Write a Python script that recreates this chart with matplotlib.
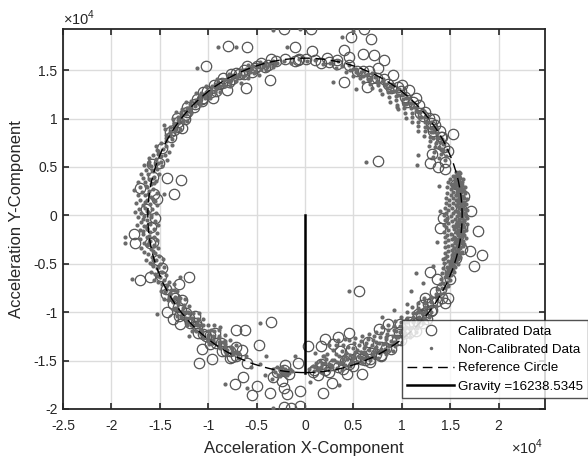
import numpy as np
import matplotlib
matplotlib.use('Agg')
import matplotlib.pyplot as plt
from matplotlib.patches import Circle
from matplotlib.lines import Line2D
from matplotlib.ticker import FuncFormatter, FixedLocator

plt.rcParams['font.family'] = ['Liberation Sans', 'DejaVu Sans']
plt.rcParams['axes.unicode_minus'] = False
plt.rcParams['mathtext.fontset'] = 'custom'
plt.rcParams['mathtext.rm'] = 'Liberation Sans'

SCALE = 1e4          # axis multiplier (x10^4)
gravity = 16238.5345

x_ticks = [-2.5, -2, -1.5, -1, -0.5, 0, 0.5, 1, 1.5, 2]
y_ticks = [-2, -1.5, -1, -0.5, 0, 0.5, 1, 1.5]

# ---------------- Calibrated data: isolated circles (x, y) in 1e4 units
cal_outliers = [
    (-0.80, 1.75), (-0.60, 1.74), (-1.02, 1.54), (-0.22, 1.92), (-0.10, 1.74), (-0.06, 1.61),
    (-0.61, 1.32), (-0.36, 1.40), (-0.81, 1.29), (-0.95, 1.21), (-1.06, 1.20), (-1.27, 0.90),
    (-1.43, 0.39), (-1.28, 0.37), (-1.35, 0.22), (-1.58, 0.53), (-1.70, 0.28), (-1.53, 0.17),
    (-1.55, -0.03),
    (0.06, 1.92), (0.61, 1.92), (0.48, 1.84), (0.68, 1.82), (0.07, 1.70), (0.40, 1.71),
    (0.71, 1.66), (0.82, 1.60), (-0.07, 1.60), (0.17, 1.57), (0.25, 1.58), (0.33, 1.60),
    (0.46, 1.64), (0.60, 1.67), (0.40, 1.38), (0.64, 1.33), (0.75, 1.52), (0.91, 1.45),
    (1.00, 1.35), (1.08, 1.30), (1.15, 1.21), (1.24, 1.07), (1.33, 1.00), (1.34, 0.93),
    (1.41, 0.81), (1.53, 0.84), (1.31, 0.63), (1.29, 0.54), (1.37, 0.50), (1.45, 0.55),
    (1.45, 0.48), (0.75, 0.56),
    (1.79, -0.16), (1.83, -0.41), (1.75, -0.52), (1.70, -0.37), (1.72, 0.05), (1.43, -0.03),
    (1.39, -0.13), (1.29, -0.59), (1.36, -0.66), (1.45, -0.90), (1.48, -0.85), (1.34, -0.79),
    (1.24, -0.85), (1.21, -0.93), (1.31, -0.98), (1.26, -1.07), (1.17, -1.02),
    (0.56, -0.78), (1.07, -1.10), (0.98, -1.12), (0.86, -1.12), (0.76, -1.17), (0.65, -1.31),
    (0.46, -1.22), (0.34, -1.26), (0.21, -1.28), (0.29, -1.33), (0.17, -1.35), (0.03, -1.35),
    (0.36, -1.40), (0.48, -1.38), (0.57, -1.45), (0.67, -1.48), (0.79, -1.45), (0.17, -1.54),
    (0.09, -1.60), (0.28, -1.73), (0.19, -1.83), (-0.05, -1.81), (-0.05, -1.97), (-0.14, -1.99),
    (0.59, -1.64), (0.43, -1.64), (-0.07, -1.52),
    (-0.35, -1.10), (-0.71, -1.18), (-0.62, -1.18), (-0.48, -1.34), (-0.71, -1.36), (-0.65, -1.39),
    (-0.60, -1.52), (-0.64, -1.67), (-0.72, -1.74), (-0.50, -1.76), (-0.55, -1.86), (-0.36, -1.83),
    (-0.22, -1.78), (-0.19, -1.85), (-0.22, -1.98), (-0.21, -1.55), (-0.33, -1.67), (-0.24, -1.71),
    (-1.10, -1.52), (-0.96, -1.48), (-1.14, -1.04), (-0.93, -1.21), (-1.43, -1.00), (-1.29, -1.12),
    (-1.06, -1.38), (-0.77, -1.47),
    (-1.70, -0.67), (-1.20, -0.64), (-1.30, -0.71), (-1.36, -1.07), (-1.27, -0.87), (-1.77, -0.19),
    (-1.76, -0.29), (-1.57, -0.27), (-1.60, -0.64), (-1.48, -0.54),
]

# ---------------- Calibrated data along the ring: (angle deg, radius 1e4)
cal_ring = [
    (100.6, 1.62), (103.8, 1.60), (106.1, 1.64), (108.7, 1.61), (111.2, 1.66), (113.5, 1.59),
    (115.9, 1.63), (118.3, 1.60), (120.8, 1.65), (123.4, 1.62), (125.7, 1.58), (128.2, 1.63),
    (130.9, 1.61), (133.1, 1.64), (135.8, 1.60), (138.6, 1.62), (141.3, 1.59), (143.7, 1.63),
    (146.9, 1.61), (149.8, 1.60),
    (154.6, 1.63), (160.2, 1.60), (165.8, 1.62), (171.9, 1.58), (177.6, 1.64), (184.3, 1.60),
    (190.1, 1.63), (196.7, 1.59), (202.8, 1.61),
    (207.9, 1.62), (211.3, 1.60), (213.8, 1.64), (217.2, 1.61), (219.6, 1.59), (223.1, 1.63),
    (225.8, 1.60), (229.3, 1.62), (231.7, 1.58), (235.2, 1.61), (238.4, 1.64), (240.9, 1.60),
    (244.1, 1.62),
    (259.8, 1.64), (262.1, 1.61), (264.3, 1.65),
    (272.8, 1.62), (276.1, 1.58), (278.7, 1.64), (282.3, 1.60), (285.2, 1.56), (287.9, 1.63),
    (291.4, 1.59), (293.8, 1.66), (297.2, 1.61), (300.1, 1.57), (302.7, 1.64), (306.3, 1.60),
    (308.8, 1.55), (312.1, 1.62), (315.4, 1.58), (317.8, 1.65), (321.2, 1.60), (324.3, 1.56),
    (327.1, 1.62),
    (331.8, 1.60), (336.2, 1.64), (340.1, 1.58), (344.3, 1.62), (347.9, 1.66), (352.2, 1.60),
    (355.8, 1.63), (2.3, 1.61), (6.8, 1.65), (11.7, 1.59),
    (24.2, 1.62), (27.8, 1.58), (31.9, 1.64), (34.6, 1.60), (38.1, 1.63), (41.7, 1.59),
    (46.2, 1.62), (49.8, 1.60), (54.1, 1.64), (57.7, 1.61), (62.3, 1.60), (65.9, 1.63),
    (70.2, 1.58), (73.8, 1.62), (78.1, 1.60), (81.9, 1.64), (86.2, 1.61), (89.8, 1.62),
    (93.7, 1.60), (97.1, 1.63),
]

cal_ring_more = [
    (102.4, 1.65), (105.2, 1.59), (107.9, 1.62), (110.1, 1.58), (112.6, 1.63), (115.1, 1.61),
    (117.4, 1.65), (119.6, 1.58), (122.1, 1.61), (124.8, 1.64), (127.2, 1.60), (129.6, 1.66),
    (132.2, 1.59), (134.6, 1.62), (137.4, 1.65), (140.1, 1.61), (142.6, 1.66), (145.2, 1.60),
    (148.4, 1.64),
    (209.6, 1.65), (212.5, 1.59), (215.8, 1.62), (218.6, 1.66), (221.4, 1.60), (224.7, 1.58),
    (227.6, 1.64), (230.6, 1.61), (233.4, 1.65), (236.8, 1.58), (239.6, 1.62), (242.8, 1.65),
    (274.6, 1.65), (277.4, 1.61), (280.6, 1.57), (283.8, 1.63), (286.6, 1.60), (289.7, 1.56),
    (292.6, 1.62), (295.6, 1.58), (298.8, 1.64), (301.4, 1.60), (304.6, 1.56), (307.7, 1.63),
    (310.4, 1.59), (313.8, 1.66), (316.6, 1.61), (319.6, 1.57), (322.8, 1.63), (325.7, 1.59),
    (328.8, 1.65),
    (26.1, 1.60), (29.8, 1.63), (33.4, 1.58), (36.3, 1.62), (40.1, 1.60), (44.2, 1.64),
    (48.1, 1.58), (52.2, 1.62), (56.1, 1.59), (60.1, 1.63), (64.2, 1.58), (68.1, 1.61),
]

# ---------------- Non-calibrated data, right band: (angle deg, radius 1e4)
noncal_right = [
    (16.2, 1.62), (15.9, 1.65), (15.1, 1.58), (14.8, 1.63), (15.3, 1.66), (14.2, 1.55), (13.9, 1.60),
    (14.1, 1.64), (13.2, 1.52), (12.8, 1.59), (13.1, 1.62), (12.9, 1.67), (12.1, 1.54), (11.8, 1.57),
    (12.2, 1.63), (11.9, 1.66), (11.1, 1.50), (10.8, 1.56), (11.2, 1.61), (10.9, 1.65), (10.1, 1.53),
    (9.8, 1.59), (10.2, 1.64), (9.9, 1.68), (9.1, 1.49), (8.8, 1.55), (9.2, 1.62), (8.9, 1.66),
    (8.1, 1.52), (7.8, 1.58), (8.2, 1.61), (7.9, 1.67), (7.1, 1.47), (6.8, 1.54), (7.2, 1.60),
    (6.9, 1.64), (6.1, 1.50), (5.8, 1.57), (6.2, 1.63), (5.9, 1.68), (5.1, 1.46), (4.8, 1.53),
    (5.2, 1.59), (4.9, 1.65), (4.1, 1.49), (3.8, 1.56), (4.2, 1.62), (3.9, 1.67), (3.1, 1.45),
    (2.8, 1.52), (3.2, 1.60), (2.9, 1.64), (2.1, 1.48), (1.8, 1.55), (2.2, 1.61), (1.9, 1.68),
    (1.1, 1.46), (0.8, 1.53), (1.2, 1.58), (0.9, 1.65), (0.1, 1.44), (-0.2, 1.51), (0.2, 1.60),
    (-0.1, 1.66), (-0.9, 1.47), (-1.2, 1.55), (-0.8, 1.62), (-1.1, 1.67), (-1.9, 1.45), (-2.2, 1.52),
    (-1.8, 1.59), (-2.1, 1.64), (-2.9, 1.48), (-3.2, 1.56), (-2.8, 1.61), (-3.1, 1.68), (-3.9, 1.44),
    (-4.2, 1.53), (-3.8, 1.58), (-4.1, 1.65), (-4.9, 1.46), (-5.2, 1.55), (-4.8, 1.62), (-5.1, 1.67),
    (-5.9, 1.49), (-6.2, 1.57), (-5.8, 1.60), (-6.1, 1.64), (-6.9, 1.45), (-7.2, 1.52), (-6.8, 1.59),
    (-7.1, 1.66), (-7.9, 1.48), (-8.2, 1.56), (-7.8, 1.62), (-8.1, 1.68), (-8.9, 1.46), (-9.2, 1.54),
    (-8.8, 1.60), (-9.1, 1.65), (-9.9, 1.50), (-10.2, 1.57), (-9.8, 1.63), (-10.1, 1.67), (-10.9, 1.47),
    (-11.2, 1.55), (-10.8, 1.61), (-11.1, 1.66), (-11.9, 1.51), (-12.2, 1.58), (-11.8, 1.64),
    (-12.9, 1.48), (-13.2, 1.56), (-12.8, 1.62), (-13.1, 1.67), (-13.9, 1.52), (-14.2, 1.59),
    (-13.8, 1.65), (-14.9, 1.50), (-15.2, 1.57), (-14.8, 1.61), (-15.1, 1.66), (-15.9, 1.53),
    (-16.2, 1.60), (-15.8, 1.64), (-16.9, 1.51), (-17.2, 1.58), (-16.8, 1.63), (-17.9, 1.55),
    (-18.2, 1.61), (-17.8, 1.66), (-18.9, 1.52), (-19.2, 1.59), (-18.8, 1.64), (-19.9, 1.56),
    (-20.2, 1.62), (-20.9, 1.53), (-21.2, 1.60), (-20.8, 1.65), (-21.9, 1.57), (-22.2, 1.63),
    (-22.9, 1.54), (-23.2, 1.61), (-23.9, 1.58), (-24.2, 1.64), (-24.9, 1.55), (-25.2, 1.62),
    (-25.9, 1.59), (-26.2, 1.65), (-26.9, 1.56), (-27.2, 1.63), (-28.1, 1.60), (-28.9, 1.57),
    (-29.2, 1.64), (-30.1, 1.61), (-30.9, 1.58), (-31.2, 1.65),
]

# dense core of the right band
noncal_right_core = [
    (14.6, 1.60), (14.4, 1.64), (13.6, 1.61), (13.4, 1.65), (12.6, 1.59), (12.4, 1.63), (11.6, 1.60),
    (11.4, 1.64), (10.6, 1.58), (10.4, 1.62), (9.6, 1.60), (9.4, 1.65), (8.6, 1.59), (8.4, 1.63),
    (7.6, 1.57), (7.4, 1.62), (6.6, 1.60), (6.4, 1.65), (5.6, 1.58), (5.4, 1.62), (4.6, 1.59),
    (4.4, 1.64), (3.6, 1.57), (3.4, 1.62), (2.6, 1.59), (2.4, 1.64), (1.6, 1.57), (1.4, 1.62),
    (0.6, 1.59), (0.4, 1.64), (-0.4, 1.57), (-0.6, 1.62), (-1.4, 1.59), (-1.6, 1.64), (-2.4, 1.57),
    (-2.6, 1.62), (-3.4, 1.59), (-3.6, 1.64), (-4.4, 1.57), (-4.6, 1.62), (-5.4, 1.59), (-5.6, 1.64),
    (-6.4, 1.57), (-6.6, 1.62), (-7.4, 1.59), (-7.6, 1.64), (-8.4, 1.57), (-8.6, 1.62), (-9.4, 1.59),
    (-9.6, 1.64), (-10.4, 1.58), (-10.6, 1.62), (-11.4, 1.60), (-11.6, 1.64), (-12.4, 1.58),
    (-12.6, 1.62), (-13.4, 1.60), (-13.6, 1.64), (-14.4, 1.58), (-14.6, 1.62), (-15.4, 1.60),
    (-15.6, 1.64), (-16.4, 1.58), (-16.6, 1.62), (-17.4, 1.60), (-18.4, 1.58), (-18.6, 1.63),
    (-19.4, 1.60), (-20.4, 1.58), (-20.6, 1.63), (-21.4, 1.60), (-22.4, 1.58), (-23.4, 1.61),
]

# ---------------- Non-calibrated data, lower-right arc
noncal_lower_right = [
    (-33.1, 1.55), (-32.8, 1.62), (-34.6, 1.50), (-34.3, 1.58), (-34.7, 1.65), (-36.1, 1.53),
    (-35.8, 1.61), (-37.6, 1.48), (-37.3, 1.56), (-37.7, 1.64), (-39.1, 1.51), (-38.8, 1.59),
    (-39.2, 1.66), (-40.6, 1.46), (-40.3, 1.55), (-40.7, 1.62), (-42.1, 1.50), (-41.8, 1.58),
    (-42.2, 1.65), (-43.6, 1.45), (-43.3, 1.53), (-43.7, 1.61), (-45.1, 1.49), (-44.8, 1.57),
    (-45.2, 1.64), (-46.6, 1.44), (-46.3, 1.52), (-46.7, 1.60), (-46.4, 1.67), (-48.1, 1.48),
    (-47.8, 1.56), (-48.2, 1.63), (-49.6, 1.43), (-49.3, 1.51), (-49.7, 1.59), (-49.4, 1.66),
    (-51.1, 1.47), (-50.8, 1.55), (-51.2, 1.62), (-52.6, 1.42), (-52.3, 1.50), (-52.7, 1.58),
    (-52.4, 1.65), (-54.1, 1.46), (-53.8, 1.54), (-54.2, 1.61), (-55.6, 1.40), (-55.3, 1.49),
    (-55.7, 1.57), (-55.4, 1.64), (-57.1, 1.45), (-56.8, 1.53), (-57.2, 1.60), (-56.9, 1.67),
    (-58.6, 1.41), (-58.3, 1.48), (-58.7, 1.56), (-58.4, 1.63), (-60.1, 1.44), (-59.8, 1.52),
    (-60.2, 1.59), (-59.9, 1.66), (-61.6, 1.39), (-61.3, 1.47), (-61.7, 1.55), (-61.4, 1.62),
    (-63.1, 1.43), (-62.8, 1.51), (-63.2, 1.58), (-62.9, 1.65), (-64.6, 1.38), (-64.3, 1.46),
    (-64.7, 1.54), (-64.4, 1.61), (-66.1, 1.42), (-65.8, 1.50), (-66.2, 1.57), (-65.9, 1.64),
    (-67.6, 1.37), (-67.3, 1.45), (-67.7, 1.53), (-67.4, 1.60), (-69.1, 1.41), (-68.8, 1.49),
    (-69.2, 1.56), (-68.9, 1.63), (-70.6, 1.36), (-70.3, 1.46), (-70.7, 1.54), (-70.4, 1.61),
    (-72.1, 1.34), (-71.8, 1.43), (-72.2, 1.51), (-71.9, 1.58), (-73.6, 1.40), (-73.3, 1.48),
    (-73.7, 1.55), (-73.4, 1.62), (-75.1, 1.33), (-74.8, 1.45), (-75.2, 1.53), (-74.9, 1.60),
    (-76.6, 1.38), (-76.3, 1.50), (-76.7, 1.57), (-76.4, 1.64), (-78.1, 1.42), (-77.8, 1.55),
    (-78.2, 1.61), (-79.6, 1.36), (-79.3, 1.52), (-79.7, 1.59), (-81.1, 1.45), (-80.8, 1.56),
    (-81.2, 1.62), (-82.6, 1.46), (-82.3, 1.54), (-82.7, 1.60), (-84.1, 1.51), (-83.8, 1.58),
    (-84.2, 1.63), (-85.6, 1.53), (-85.3, 1.60), (-87.1, 1.56), (-86.8, 1.61), (-88.4, 1.59),
    (-39.8, 1.57), (-41.3, 1.53), (-42.8, 1.60), (-44.3, 1.56), (-45.8, 1.52), (-47.3, 1.59),
    (-48.8, 1.55), (-50.3, 1.61), (-51.8, 1.52), (-53.3, 1.57), (-54.8, 1.60), (-56.3, 1.51),
    (-57.8, 1.56), (-59.3, 1.61), (-60.8, 1.50), (-62.3, 1.55), (-63.8, 1.60), (-65.3, 1.49),
    (-66.8, 1.54), (-68.3, 1.59), (-69.8, 1.50), (-71.3, 1.55), (-72.8, 1.60), (-74.3, 1.51),
    (-75.8, 1.56), (-77.3, 1.47), (-78.8, 1.52), (-80.3, 1.57), (-81.8, 1.50), (-83.3, 1.55),
    (-84.8, 1.58), (-86.3, 1.57),
]

# ---------------- Non-calibrated data, bottom cluster and lower-left arc
noncal_lower_left = [
    (258.4, 1.62), (259.6, 1.59), (259.3, 1.65), (260.6, 1.61), (260.3, 1.67), (261.4, 1.58),
    (261.7, 1.63), (261.3, 1.68), (262.6, 1.60), (262.3, 1.65), (263.4, 1.62), (263.7, 1.66),
    (264.6, 1.59), (264.3, 1.64), (265.4, 1.61), (262.0, 1.63), (261.0, 1.62), (263.0, 1.64),
    (247.2, 1.58), (250.3, 1.66), (253.1, 1.60), (255.8, 1.70),
    (206.1, 1.57), (205.8, 1.64), (207.6, 1.53), (207.3, 1.61), (207.7, 1.68), (209.1, 1.58),
    (208.8, 1.65), (210.6, 1.54), (210.3, 1.62), (210.7, 1.69), (212.1, 1.59), (211.8, 1.66),
    (213.6, 1.55), (213.3, 1.63), (215.1, 1.51), (214.8, 1.60), (215.2, 1.67), (216.6, 1.56),
    (216.3, 1.64), (218.1, 1.52), (217.8, 1.61), (218.2, 1.68), (219.6, 1.57), (219.3, 1.65),
    (221.1, 1.53), (220.8, 1.62), (222.6, 1.49), (222.3, 1.58), (222.7, 1.66), (224.1, 1.54),
    (223.8, 1.63), (225.6, 1.50), (225.3, 1.59), (225.7, 1.67), (227.1, 1.55), (226.8, 1.64),
    (228.6, 1.51), (228.3, 1.60), (230.1, 1.47), (229.8, 1.56), (230.2, 1.65), (231.6, 1.52),
    (231.3, 1.61), (233.1, 1.48), (232.8, 1.57), (233.2, 1.66), (234.6, 1.53), (234.3, 1.62),
    (236.1, 1.49), (235.8, 1.58), (237.6, 1.54), (237.3, 1.63), (239.1, 1.50), (238.8, 1.59),
    (240.6, 1.56), (240.3, 1.64), (242.1, 1.52), (241.8, 1.60), (243.6, 1.57), (245.1, 1.62),
    (209.9, 1.61), (212.9, 1.58), (215.9, 1.63), (218.9, 1.59), (221.9, 1.64), (224.9, 1.57),
    (227.9, 1.62), (230.9, 1.59), (233.9, 1.63), (236.9, 1.56), (239.9, 1.61), (242.9, 1.59),
    (206.9, 1.60), (208.4, 1.63), (209.5, 1.56), (211.2, 1.64), (212.4, 1.61), (214.1, 1.57),
    (215.5, 1.65), (217.1, 1.58), (218.5, 1.63), (220.1, 1.56), (221.4, 1.60), (223.0, 1.66),
    (224.5, 1.61), (226.1, 1.57), (227.4, 1.60), (229.0, 1.63), (230.5, 1.53), (232.2, 1.64),
    (233.5, 1.60), (235.1, 1.55), (236.5, 1.61), (238.1, 1.57), (239.5, 1.63), (241.2, 1.57),
    (242.5, 1.62), (244.2, 1.59),
]

# ---------------- Non-calibrated data, left band
noncal_left = [
    (152.1, 1.56), (151.8, 1.63), (153.6, 1.60), (153.3, 1.67), (155.1, 1.55), (154.8, 1.62),
    (155.2, 1.70), (156.6, 1.58), (156.3, 1.66), (158.1, 1.54), (157.8, 1.61), (158.2, 1.69),
    (159.6, 1.59), (159.3, 1.65), (159.7, 1.72), (161.1, 1.56), (160.8, 1.63), (161.2, 1.70),
    (162.6, 1.60), (162.3, 1.67), (162.7, 1.74), (164.1, 1.57), (163.8, 1.64), (164.2, 1.71),
    (165.6, 1.61), (165.3, 1.68), (165.7, 1.75), (167.1, 1.58), (166.8, 1.65), (167.2, 1.72),
    (168.6, 1.62), (168.3, 1.69), (168.7, 1.76), (170.1, 1.59), (169.8, 1.66), (170.2, 1.73),
    (171.6, 1.55), (171.3, 1.63), (171.7, 1.70), (173.1, 1.60), (172.8, 1.67), (173.2, 1.74),
    (174.6, 1.56), (174.3, 1.64), (174.7, 1.71), (176.1, 1.53), (175.8, 1.61), (176.2, 1.68),
    (175.9, 1.75), (177.6, 1.58), (177.3, 1.65), (177.7, 1.72), (179.1, 1.54), (178.8, 1.62),
    (179.2, 1.69), (178.9, 1.76), (180.6, 1.59), (180.3, 1.66), (180.7, 1.73), (182.1, 1.55),
    (181.8, 1.63), (182.2, 1.70), (183.6, 1.52), (183.3, 1.60), (183.7, 1.67), (183.4, 1.74),
    (185.1, 1.57), (184.8, 1.64), (185.2, 1.71), (186.6, 1.54), (186.3, 1.61), (186.7, 1.68),
    (188.1, 1.58), (187.8, 1.65), (188.2, 1.72), (189.6, 1.55), (189.3, 1.62), (189.7, 1.69),
    (191.1, 1.59), (190.8, 1.66), (191.2, 1.73), (192.6, 1.56), (192.3, 1.63), (192.7, 1.70),
    (194.1, 1.60), (193.8, 1.67), (195.6, 1.57), (195.3, 1.64), (195.7, 1.71), (197.1, 1.54),
    (196.8, 1.61), (197.2, 1.68), (198.6, 1.58), (198.3, 1.65), (200.1, 1.55), (199.8, 1.62),
    (200.2, 1.69), (201.6, 1.59), (201.3, 1.66), (203.1, 1.56), (202.8, 1.63), (203.2, 1.70),
    (204.6, 1.60), (204.3, 1.67),
    (157.4, 1.64), (160.4, 1.61), (163.4, 1.65), (166.4, 1.62), (169.4, 1.67), (172.4, 1.64),
    (175.4, 1.66), (178.4, 1.63), (181.4, 1.67), (184.4, 1.64), (187.4, 1.62), (190.4, 1.65),
    (193.4, 1.61), (196.4, 1.64), (199.4, 1.61), (202.4, 1.64), (156.2, 1.67), (162.0, 1.69),
    (167.9, 1.60), (173.8, 1.58), (179.7, 1.59), (185.6, 1.68), (191.5, 1.59), (197.6, 1.66),
]

# ---------------- Non-calibrated data, upper-left arc
noncal_upper_left = [
    (100.5, 1.60), (102.1, 1.57), (101.8, 1.63), (103.5, 1.60), (105.1, 1.55), (104.8, 1.62),
    (106.6, 1.58), (106.3, 1.65), (108.1, 1.53), (107.8, 1.61), (109.6, 1.56), (109.3, 1.63),
    (111.1, 1.59), (110.8, 1.66), (112.6, 1.54), (112.3, 1.62), (114.1, 1.57), (113.8, 1.64),
    (115.6, 1.52), (115.3, 1.60), (117.1, 1.56), (116.8, 1.63), (118.6, 1.59), (118.3, 1.66),
    (120.1, 1.54), (119.8, 1.61), (121.6, 1.57), (121.3, 1.64), (123.1, 1.60), (122.8, 1.67),
    (124.6, 1.55), (124.3, 1.62), (126.1, 1.58), (125.8, 1.65), (127.6, 1.61), (127.3, 1.68),
    (129.1, 1.56), (128.8, 1.63), (130.6, 1.59), (130.3, 1.66), (132.1, 1.62), (131.8, 1.69),
    (133.6, 1.57), (133.3, 1.64), (135.1, 1.60), (134.8, 1.67), (136.6, 1.63), (136.3, 1.70),
    (138.1, 1.58), (137.8, 1.65), (139.6, 1.61), (139.3, 1.68), (141.1, 1.56), (140.8, 1.64),
    (141.2, 1.71), (142.6, 1.59), (142.3, 1.66), (144.1, 1.62), (143.8, 1.69), (145.6, 1.57),
    (145.3, 1.65), (147.1, 1.60), (146.8, 1.67), (147.2, 1.73), (148.6, 1.63), (148.3, 1.70),
    (150.1, 1.58), (149.8, 1.66),
    (101.2, 1.59), (102.9, 1.61), (104.3, 1.58), (105.9, 1.60), (107.2, 1.63), (108.9, 1.58),
    (110.4, 1.61), (111.9, 1.63), (113.2, 1.58), (114.9, 1.61), (116.3, 1.59), (117.8, 1.62),
    (119.4, 1.58), (120.9, 1.63), (122.3, 1.59), (123.9, 1.64), (125.2, 1.60), (126.8, 1.62),
    (128.3, 1.59), (129.9, 1.61), (131.3, 1.65), (132.9, 1.60), (134.3, 1.62), (135.9, 1.66),
    (137.3, 1.61), (138.9, 1.63), (140.2, 1.67), (141.9, 1.60), (143.3, 1.64), (144.9, 1.66),
    (146.2, 1.61), (147.9, 1.64), (149.2, 1.62), (150.8, 1.64),
]

# ---------------- Non-calibrated data, upper-right arc and top
noncal_upper_right = [
    (21.5, 1.55), (23.1, 1.50), (22.8, 1.58), (24.6, 1.46), (24.3, 1.54), (24.7, 1.61),
    (26.1, 1.49), (25.8, 1.57), (27.6, 1.52), (27.3, 1.60), (29.1, 1.47), (28.8, 1.55),
    (29.2, 1.62), (30.6, 1.50), (30.3, 1.58), (32.1, 1.53), (31.8, 1.61), (33.6, 1.48),
    (33.3, 1.56), (33.7, 1.63), (35.1, 1.51), (34.8, 1.59), (36.6, 1.46), (36.3, 1.54),
    (36.7, 1.62), (38.1, 1.49), (37.8, 1.57), (39.6, 1.52), (39.3, 1.60), (41.1, 1.47),
    (40.8, 1.55), (41.2, 1.63), (42.6, 1.50), (42.3, 1.58), (44.1, 1.45), (43.8, 1.53),
    (44.2, 1.61), (45.6, 1.48), (45.3, 1.56), (47.1, 1.51), (46.8, 1.59), (48.6, 1.46),
    (48.3, 1.54), (48.7, 1.62), (50.1, 1.49), (49.8, 1.57), (51.6, 1.52), (51.3, 1.60),
    (53.1, 1.47), (52.8, 1.55), (53.2, 1.63), (54.6, 1.50), (54.3, 1.58), (56.1, 1.53),
    (55.8, 1.61), (57.6, 1.48), (57.3, 1.56), (59.1, 1.51), (58.8, 1.59), (60.6, 1.54),
    (60.3, 1.62), (62.1, 1.49), (61.8, 1.57), (63.6, 1.52), (63.3, 1.60), (65.1, 1.55),
    (64.8, 1.63), (66.6, 1.50), (66.3, 1.58), (68.1, 1.53), (67.8, 1.61), (69.6, 1.56),
    (71.1, 1.52), (70.8, 1.60), (72.6, 1.57), (74.1, 1.54), (73.8, 1.62), (76.1, 1.59),
    (78.1, 1.56), (77.8, 1.63), (80.6, 1.60), (83.1, 1.58), (86.2, 1.61), (89.1, 1.59),
    (92.2, 1.62), (95.1, 1.58), (97.6, 1.61),
    (25.3, 1.58), (27.0, 1.56), (28.4, 1.59), (30.0, 1.61), (31.2, 1.55), (32.9, 1.58),
    (34.2, 1.61), (35.8, 1.56), (37.3, 1.59), (38.8, 1.62), (40.2, 1.57), (41.9, 1.60),
    (43.2, 1.57), (44.9, 1.59), (46.2, 1.61), (47.9, 1.55), (49.3, 1.60), (50.9, 1.62),
    (52.2, 1.57), (53.9, 1.59), (55.3, 1.56), (56.9, 1.60), (58.3, 1.58), (59.9, 1.60),
    (61.2, 1.56), (62.9, 1.61), (64.3, 1.58), (65.8, 1.60), (67.3, 1.56), (68.8, 1.59),
    (70.3, 1.57), (71.9, 1.59),
]

# ---------------- Non-calibrated isolated points (x, y) in 1e4 units
noncal_outliers = [
    (-0.90, 1.74), (-0.71, 1.74), (-1.12, 1.52), (-1.46, 0.22), (-1.77, 0.26), (-0.19, 1.74),
    (-0.33, 1.91), (-0.05, 1.92), (0.50, 1.90), (0.38, 1.84), (0.29, 1.38), (0.53, 1.31),
    (0.63, 0.55), (1.17, 0.62), (1.16, 0.52), (0.95, 1.12), (0.67, 1.40), (-1.86, -0.22),
    (-1.86, -0.29), (-1.79, -0.66), (-1.29, -0.64), (-1.53, -1.02), (0.45, -0.78), (1.15, -0.60),
    (-0.83, -1.74), (-0.60, -1.78), (-0.46, -1.11), (-0.34, -1.69), (-0.33, -1.99), (1.40, 0.05),
    (1.36, -0.27), (1.38, 0.30), (1.43, -0.45), (1.32, -0.52), (0.20, -1.45), (0.10, -1.42),
    (0.35, -1.75), (0.05, -1.72), (-0.10, -1.45), (-0.40, -1.45), (-1.00, -1.30), (-1.20, -1.25),
    (-0.88, -1.15), (0.80, -1.05), (0.92, -0.98), (1.05, -0.92), (1.10, -0.78), (1.22, -0.70),
]


def from_xy(pairs):
    a = np.array(pairs, dtype=float) * SCALE
    return a[:, 0], a[:, 1]


def from_polar(pairs):
    a = np.array(pairs, dtype=float)
    ang = np.radians(a[:, 0])
    r = a[:, 1] * SCALE
    return r * np.cos(ang), r * np.sin(ang)


cal_parts = [from_xy(cal_outliers), from_polar(cal_ring), from_polar(cal_ring_more)]
cal_x = np.concatenate([p[0] for p in cal_parts])
cal_y = np.concatenate([p[1] for p in cal_parts])

parts = [from_polar(noncal_right), from_polar(noncal_right_core),
         from_polar(noncal_lower_right), from_polar(noncal_lower_left),
         from_polar(noncal_left), from_polar(noncal_upper_left),
         from_polar(noncal_upper_right), from_xy(noncal_outliers)]
nc_x = np.concatenate([p[0] for p in parts])
nc_y = np.concatenate([p[1] for p in parts])

fig = plt.figure(figsize=(5.88, 4.57), dpi=100)
ax = fig.add_axes([63/588, 48/457, 482/588, 380/457])

cal_color = '#555555'
dot_color = '#6a6a6a'
dark = '#262626'

ax.plot(cal_x, cal_y, linestyle='none', marker='o', markersize=7.5,
        markerfacecolor='none', markeredgecolor=cal_color, markeredgewidth=0.9, zorder=3)
ax.plot(nc_x, nc_y, linestyle='none', marker='o', markersize=3.0,
        markerfacecolor=dot_color, markeredgecolor='none', zorder=4)

ref = Circle((0, 0), gravity, fill=False, edgecolor='black', linewidth=1.0,
             linestyle=(0, (7, 4)), zorder=5)
ax.add_patch(ref)
ax.plot([0, 0], [0, -gravity], color='black', linewidth=1.8, zorder=6)

ax.set_xlim(-2.5 * SCALE, 2.48 * SCALE)
ax.set_ylim(-2.0 * SCALE, 1.925 * SCALE)
ax.xaxis.set_major_locator(FixedLocator([t * SCALE for t in x_ticks]))
ax.yaxis.set_major_locator(FixedLocator([t * SCALE for t in y_ticks]))
fmt = FuncFormatter(lambda v, p: '%g' % round(v / SCALE, 3))
ax.xaxis.set_major_formatter(fmt)
ax.yaxis.set_major_formatter(fmt)

ax.grid(True, color='#dcdcdc', linewidth=1.0, zorder=0)
ax.set_axisbelow(True)
ax.tick_params(direction='in', length=4, width=1.2, top=True, right=True,
               labelsize=10, colors=dark)
ax.tick_params(axis='x', pad=7)
ax.tick_params(axis='y', pad=4)
for s in ax.spines.values():
    s.set_linewidth(1.3)
    s.set_color(dark)

ax.set_xlabel('Acceleration X-Component', fontsize=12, color=dark)
ax.set_ylabel('Acceleration Y-Component', fontsize=12, color=dark)
ax.xaxis.set_label_coords(0.5, -0.083)
ax.yaxis.set_label_coords(-0.081, 0.5)

fig.text(63/588, 1 - 25/457, r'$\times10^{4}$', fontsize=10.5, color=dark,
         ha='left', va='baseline')
fig.text(543/588, 1 - 454/457, r'$\times10^{4}$', fontsize=10.5, color=dark,
         ha='right', va='baseline')

handles = [
    Line2D([], [], linestyle='none', marker='o', markersize=7.5, markerfacecolor='none',
           markeredgecolor=cal_color, markeredgewidth=0.9),
    Line2D([], [], linestyle='none', marker='o', markersize=2.5, markerfacecolor=dot_color,
           markeredgecolor='none'),
    Line2D([], [], color='black', linewidth=1.0, linestyle=(0, (7, 4))),
    Line2D([], [], color='black', linewidth=1.8),
]
labels = ['Calibrated Data', 'Non-Calibrated Data', 'Reference Circle',
          'Gravity =%.4f' % gravity]
leg = fig.legend(handles, labels, loc='upper left', bbox_to_anchor=(402/588, 1 - 320/457),
                 fontsize=9.6, frameon=True, fancybox=False, edgecolor=dark,
                 handlelength=3.5, handletextpad=0.3, labelspacing=0.45, borderpad=0.4,
                 borderaxespad=0, numpoints=1)
leg.get_frame().set_linewidth(1.0)
leg.set_zorder(10)

fig.savefig('out.png', dpi=100)
